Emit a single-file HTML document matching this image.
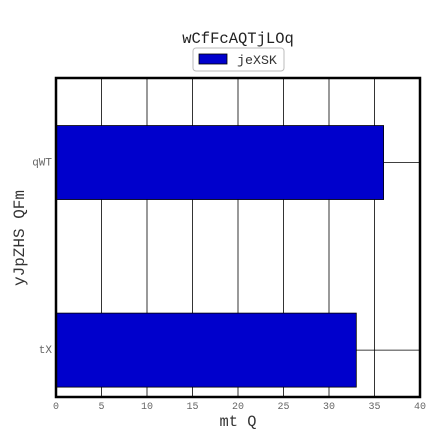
<!DOCTYPE html>
<html><head><meta charset="utf-8"><style>
body{margin:0;background:#fff;}
svg text{font-family:"Liberation Mono",monospace;}
</style></head><body>
<svg id="chart" width="441" height="441" xmlns="http://www.w3.org/2000/svg">
<rect width="441" height="441" fill="#fff"/>
<text x="238" y="43" text-anchor="middle" font-size="15.5" fill="#222">wCfFcAQTjLOq</text>
<g>
<rect x="193" y="48" width="91" height="23" rx="3" fill="#fff" stroke="#bbb"/>
<rect x="199" y="54" width="28" height="10" fill="#0000cc" stroke="#000" stroke-width="0.8"/>
<text x="237" y="64" font-size="13.3" fill="#333">jeXSK</text>
</g>
<g id="grid"></g>
<g id="bars"></g>
<rect x="56" y="78" width="364" height="319" fill="none" stroke="#000" stroke-width="2.5"/>
<g id="ticks"></g>
<text x="238" y="426" text-anchor="middle" font-size="15.4" fill="#333">mt Q</text>
<text transform="translate(24,238) rotate(-90)" text-anchor="middle" font-size="16" fill="#333">yJpZHS QFm</text>
</svg>
<script>
const categories=["qWT","tX"];
const values=[36,33];
const xTicks=[0,5,10,15,20,25,30,35,40];
const NS="http://www.w3.org/2000/svg";
const x0=56,x1=420,y0=78,y1=397,xMax=40;
const xs=v=>x0+(x1-x0)*v/xMax;
const cy=i=>y0+(y1-y0)*(0.265+0.588*i);
const bh=74;
function mk(t,a,p){const e=document.createElementNS(NS,t);for(const k in a)e.setAttribute(k,a[k]);p.appendChild(e);return e;}
const grid=document.getElementById('grid'),bars=document.getElementById('bars'),ticks=document.getElementById('ticks');
xTicks.forEach(t=>{
 const l=mk('line',{x1:xs(t),x2:xs(t),y1:y0,y2:y1,stroke:'#000','stroke-width':0.8},grid);
 
 
 const tx=mk('text',{x:xs(t),y:y1+12,'text-anchor':'middle','font-size':10,fill:'#666'},ticks);
 tx.textContent=t;
 
 
});
categories.forEach((c,i)=>{
 const l=mk('line',{x1:x0,x2:x1,y1:cy(i),y2:cy(i),stroke:'#000','stroke-width':0.8},grid);
 
 
 const r=mk('rect',{x:x0,y:cy(i)-bh/2,width:xs(values[i])-x0,height:bh,fill:'#0000cc',stroke:'#000','stroke-width':0.8},bars);
 
 
 const tx=mk('text',{x:x0-4,y:cy(i)+3,'text-anchor':'end','font-size':11,fill:'#666'},ticks);
 tx.textContent=c;
 
 
});
</script>
</body></html>
